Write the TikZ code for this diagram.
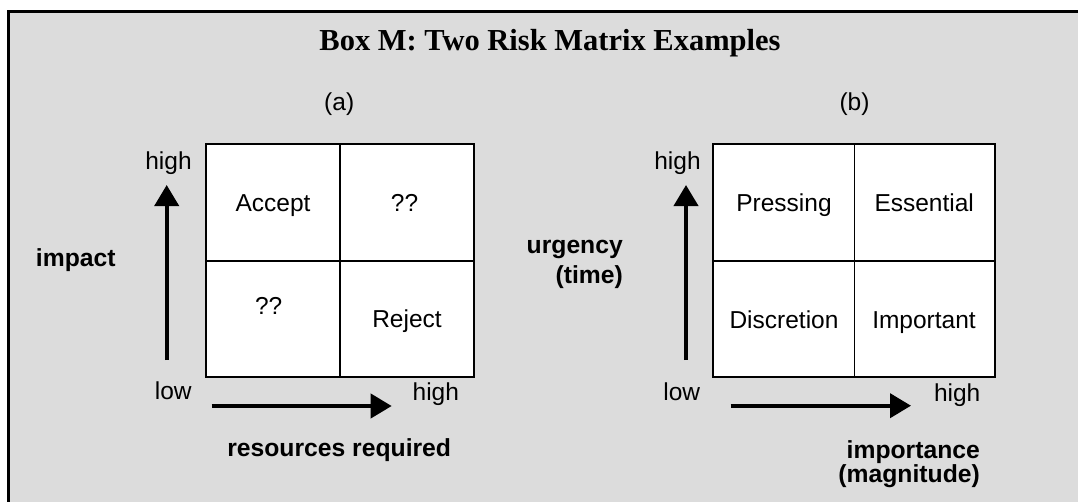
\documentclass[tikz,border=0pt]{standalone}
\usepackage{fontspec}
\setmainfont{Liberation Sans}
\newfontfamily\titlefont{Liberation Serif}
\usetikzlibrary{arrows.meta}
\definecolor{boxgrey}{RGB}{220,220,220}
\begin{document}
\begin{tikzpicture}[x=1pt,y=-1pt,
  lbl/.style={inner sep=0pt, anchor=base, font=\fontsize{24.5}{29}\selectfont},
  blbl/.style={inner sep=0pt, anchor=base, font=\fontsize{24.7}{29}\selectfont\bfseries},
  rlbl/.style={blbl, anchor=base east},
  cellA/.style={rectangle, fill=white, inner sep=0pt, minimum width=134pt, minimum height=116.5pt},
  cellB/.style={rectangle, fill=white, inner sep=0pt, minimum width=140.5pt, minimum height=116.5pt},
  axis/.style={line width=4pt, -{Triangle[length=21pt, width=24pt]}},
  grid/.style={line width=2pt}
]
\useasboundingbox (0,0) rectangle (1078,501);
% frame
\fill[boxgrey] (8.8,11.5) rectangle (1080,503);
\draw[line width=3pt] (8.8,503) -- (8.8,11.5) -- (1080,11.5);

% title
\node[inner sep=0pt, anchor=base, font=\titlefont\bfseries\fontsize{30.5}{36}\selectfont] (title) at (550,50) {Box M: Two Risk Matrix Examples};

% ---------- matrix (a)
\node (capa) [lbl] at (339.2,110.5) {(a)};
\node[cellA] (a11) at (273,202.5) {};
\node[cellA] (a12) at (407,202.5) {};
\node[cellA] (a21) at (273,319) {};
\node[cellA] (a22) at (407,319) {};
\draw[grid] (a11.north west) rectangle (a22.south east);
\draw[grid] (a11.north east) -- (a21.south east);
\draw[grid] (a11.south west) -- (a12.south east);

\node[lbl] (accept) at (273,211) {Accept};
\node[lbl] (qa1) at (404.5,211) {??};
\node[lbl] (qa2) at (268.7,314.3) {??};
\node[lbl] (reject) at (407,327.7) {Reject};

\coordinate (aVlow) at (166.7,360);
\coordinate (aVhigh) at (166.7,185);
\coordinate (aHlow) at (211.7,406);
\coordinate (aHhigh) at (391.7,406);
\draw[axis] (aVlow) -- (aVhigh);
\draw[axis] (aHlow) -- (aHhigh);

\node[lbl] (ahigh) at (168.5,169) {high};
\node[lbl] (alow) at (173.3,399.5) {low};
\node[lbl] (ahighx) at (435.8,400.7) {high};
\node[blbl] (impact) at (75.8,266) {impact};
\node[blbl] (resources) at (339.2,456.5) {resources required};

% ---------- matrix (b)
\node (capb) [lbl] at (854.5,110.5) {(b)};
\node[cellB] (b11) at (783.75,202.5) {};
\node[cellB] (b12) at (924.25,202.5) {};
\node[cellB] (b21) at (783.75,319) {};
\node[cellB] (b22) at (924.25,319) {};
\draw[grid] (b11.north west) rectangle (b22.south east);
\draw[line width=1.3pt] (b11.north east) -- (b21.south east);
\draw[grid] (b11.south west) -- (b12.south east);

\node[lbl] (pressing) at (784,211) {Pressing};
\node[lbl] (essential) at (924.2,211) {Essential};
\node[lbl] (discretion) at (784,328.3) {Discretion};
\node[lbl] (important) at (924,328.3) {Important};

\coordinate (bVlow) at (686,360);
\coordinate (bVhigh) at (686,185);
\coordinate (bHlow) at (730.7,405.7);
\coordinate (bHhigh) at (911,405.7);
\draw[axis] (bVlow) -- (bVhigh);
\draw[axis] (bHlow) -- (bHhigh);

\node[lbl] (bhigh) at (677.5,169) {high};
\node[lbl] (blow) at (681.8,400) {low};
\node[lbl] (bhighx) at (957.2,401) {high};
\node[rlbl] (urgency) at (623,253) {urgency};
\node[rlbl] (time) at (623,283) {(time)};
\node[rlbl] (importance) at (980,458.3) {importance};
\node[rlbl] (magnitude) at (980,482) {(magnitude)};
\end{tikzpicture}
\end{document}
